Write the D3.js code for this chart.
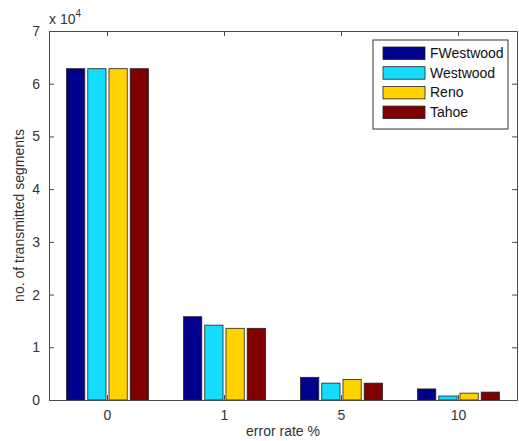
<!DOCTYPE html>
<html>
<head>
<meta charset="utf-8">
<script src="https://cdn.jsdelivr.net/npm/d3@7"></script>
<style>
  html, body { margin: 0; padding: 0; background: #fff; }
  svg { display: block; font-family: "Liberation Sans", Arial, Helvetica, sans-serif; }
</style>
</head>
<body>
<svg id="chart" width="519" height="441"></svg>
<script>
// Error rates (%) on the x axis
const errorRates = ["0", "1", "5", "10"];
// TCP variants
const variants = ["FWestwood", "Westwood", "Reno", "Tahoe"];
// Transmitted segments per variant, one value per error rate
const fwestwood = [62850, 15800, 4300, 2100];
const westwood  = [62850, 14200, 3200, 760];
const reno      = [62850, 13600, 3900, 1300];
const tahoe     = [62850, 13600, 3200, 1500];
const yTicks = [0, 1, 2, 3, 4, 5, 6, 7];
const colors = ["#00008c", "#14dcfa", "#ffd200", "#800000"];

const seriesValues = [fwestwood, westwood, reno, tahoe];
const rows = errorRates.map((r, i) => ({
  rate: r,
  values: variants.map((v, j) => ({ name: v, value: seriesValues[j][i], color: colors[j] }))
}));

const svg = d3.select("#chart");
const m = { left: 49, right: 517, top: 31, bottom: 400 };
const axisColor = "#4a4a4a";

const x0 = d3.scaleBand().domain(errorRates).range([m.left, m.right]).paddingInner(0.3).paddingOuter(0.15);
const x1 = d3.scaleBand().domain(variants).range([0, x0.bandwidth()]).paddingInner(0.14);
const y = d3.scaleLinear().domain([0, 70000]).range([m.bottom, m.top]);

// plot background
svg.append("rect").attr("x", m.left).attr("y", m.top)
  .attr("width", m.right - m.left).attr("height", m.bottom - m.top).attr("fill", "#fff");

// bars
const groups = svg.append("g").selectAll("g").data(rows).join("g")
  .attr("transform", d => `translate(${x0(d.rate)},0)`);
groups.selectAll("rect").data(d => d.values).join("rect")
  .attr("x", d => x1(d.name))
  .attr("y", d => y(d.value))
  .attr("width", x1.bandwidth())
  .attr("height", d => y(0) - y(d.value))
  .attr("fill", d => d.color)
  .attr("stroke", "#222")
  .attr("stroke-width", 0.8);

// axes with inward ticks on all four sides
const tickLen = 5;
const yTickVals = yTicks.map(t => t * 10000);
const styleAxis = g => {
  g.select(".domain").attr("stroke", axisColor);
  g.selectAll(".tick line").attr("stroke", axisColor);
  g.selectAll(".tick text").attr("fill", "#333").style("font-size", "14px");
};

svg.append("g").attr("transform", `translate(${m.left},0)`)
  .call(d3.axisLeft(y).tickValues(yTickVals).tickFormat(d => d / 10000).tickSizeInner(-tickLen).tickSizeOuter(0).tickPadding(9))
  .call(styleAxis);
svg.append("g").attr("transform", `translate(${m.right},0)`)
  .call(d3.axisRight(y).tickValues(yTickVals).tickFormat("").tickSizeInner(-tickLen).tickSizeOuter(0))
  .call(styleAxis);
svg.append("g").attr("transform", `translate(0,${m.bottom})`)
  .call(d3.axisBottom(x0).tickSizeInner(-tickLen).tickSizeOuter(0).tickPadding(10))
  .call(styleAxis);
svg.append("g").attr("transform", `translate(0,${m.top})`)
  .call(d3.axisTop(x0).tickFormat("").tickSizeInner(-tickLen).tickSizeOuter(0))
  .call(styleAxis);

// exponent label
const exp = svg.append("text").attr("x", 49).attr("y", 24).attr("fill", "#333").style("font-size", "14px");
exp.append("tspan").text("x 10");
exp.append("tspan").attr("dy", -7).style("font-size", "10px").text("4");

// axis titles
svg.append("text").attr("x", (m.left + m.right) / 2).attr("y", 436)
  .attr("text-anchor", "middle").attr("fill", "#333").style("font-size", "14px").text("error rate %");
svg.append("text").attr("transform", `translate(24,${(m.top + m.bottom) / 2}) rotate(-90)`)
  .attr("text-anchor", "middle").attr("fill", "#333").style("font-size", "14px").text("no. of transmitted segments");

// legend
const lg = svg.append("g").attr("transform", "translate(373,40)");
lg.append("rect").attr("width", 135).attr("height", 89).attr("fill", "#fff").attr("stroke", "#333").attr("stroke-width", 1);
const items = lg.selectAll("g").data(variants).join("g")
  .attr("transform", (d, i) => `translate(10,${7 + i * 19.7})`);
items.append("rect").attr("width", 42).attr("height", 12.5)
  .attr("fill", (d, i) => colors[i]).attr("stroke", "#222").attr("stroke-width", 0.8);
items.append("text").attr("x", 47).attr("y", 11).attr("fill", "#111").style("font-size", "14px").text(d => d);
</script>
</body>
</html>
